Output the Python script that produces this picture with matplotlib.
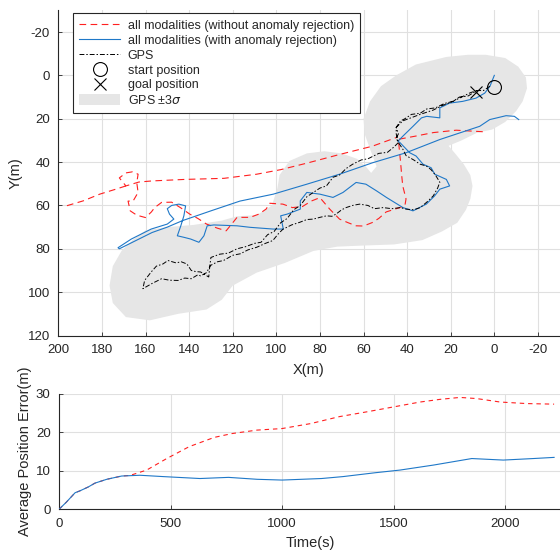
import numpy as np
import matplotlib
matplotlib.use("Agg")
import matplotlib.pyplot as plt
from matplotlib.patches import Polygon, Patch
from matplotlib.lines import Line2D

plt.rcParams['font.family'] = ['Liberation Sans', 'DejaVu Sans']
plt.rcParams['axes.unicode_minus'] = False

# ---- trajectories (m) ----
gps_x = [2, 5, 8, 12, 16, 19, 23, 27, 31, 34, 38, 41, 43, 45, 44, 45, 44,
         46, 49, 53, 58, 61, 65, 68, 71, 74, 77, 80, 83, 86, 89, 92, 95, 98, 101, 104, 107, 110, 114, 118, 122, 126, 130,
         130.5, 131, 134.7, 137, 139, 141, 143.6, 146, 149.7, 152, 155, 157.4, 160.4, 161.2, 157, 152.6, 149, 145, 142,
         139, 136, 134.7, 132, 130.2,
         127, 124.2, 120, 116.5, 113, 109, 105, 101.6, 99, 97, 93, 89.3, 86, 83, 80, 77, 74.5, 72.6, 70, 68, 65, 61.8,
         58, 55, 51, 47, 43, 40.5, 37, 34, 31, 28, 26, 25, 27, 29, 31.2, 34, 37, 40.5, 42, 44,
         45, 45, 42, 38, 34, 31, 28, 24, 19, 15, 11, 8]
gps_y = [5, 7, 7, 9.5, 10, 12, 13, 15, 15.5, 17.5, 18, 20, 21, 24, 27, 29, 31,
         33, 35.5, 36, 38.5, 39, 41, 43, 46, 47, 51, 52, 54, 56, 60, 62, 66, 68, 72, 73.5, 77, 77.5, 79, 80, 82, 82.5, 84,
         88, 93, 90.7, 90.5, 90, 87, 86, 86.5, 85.4, 87, 88, 90.7, 94.6, 98.4, 96, 93.8, 94.5, 94.6, 93.5,
         93.8, 92, 92.5, 91, 87.7,
         86, 85.4, 83, 82.3, 80.5, 79.3, 77.5, 76.2, 73, 71, 69, 67.8, 66.5, 66.3, 65.5, 64.8, 65, 64, 62, 61, 60, 59.4,
         60, 61.5, 61, 61.5, 61, 61.7, 62, 61, 58.5, 55.6, 52, 49.3, 46, 43.5, 41.8, 41, 39, 37, 34, 31,
         27, 24, 21, 19.5, 18, 17, 16, 14, 12, 10, 8, 7]

with_x = [0, 2, 4.4, 8.4, 14.5, 20.5, 25, 25, 31, 33.4, 37.3, 41.9, 44.2, 43.3, 38.8, 35.9, 32.7, 29, 27.3, 22,
          20.5, 25, 27.4, 31.2, 37.3, 41.9, 49.5, 54, 58.9, 63.4, 69.4, 74, 80, 86, 89, 89, 95, 98, 96.8, 101.4,
          112, 118, 128.6, 131.7, 133.2, 135.5, 139.3, 142.4, 145.4, 143.8, 142.4, 141.6, 144.7, 148, 150, 149,
          147, 150, 157.4, 166.5, 172.6, 172, 165, 157, 150, 143, 130, 116.7, 101.4, 86, 71, 55.8, 40.5, 25,
          6.7, 2.1, -5.4, -9.2, -11.2]
with_y = [0, 5, 8.2, 10.5, 12, 12.8, 15, 19.6, 18.9, 19.6, 23.5, 28, 30.4, 31, 35.7, 37.2, 41, 42.6, 45.6, 48,
          51, 52.5, 55.6, 59.4, 62.5, 61, 56.3, 53.3, 50.2, 49.4, 54, 56.3, 54.8, 54, 57.9, 61.7, 64, 64.8, 70.9, 70.9,
          70.1, 69.4, 69, 69.4, 74, 77, 75.5, 74.7, 74, 69.4, 64.8, 60.2, 59.4, 60, 61.5, 64,
          66.3, 68.6, 70.9, 75.5, 79.5, 80, 76.5, 72.5, 70, 67, 62.5, 58, 54.8, 50.2, 45.6, 40.3, 35.7, 29.6,
          23.5, 20.4, 18.6, 18.9, 20.4]

without_x = [5.3, 17.5, 28, 36, 44, 43.5, 43, 42.5, 42, 40.5, 41, 43.4, 49.6, 53, 56, 60, 63.4, 67, 71, 75.5, 80,
             84, 88, 92.6, 97, 103, 104.7, 108, 112, 118, 120, 123, 127, 132, 136, 139.7, 144, 148, 152.6, 155.8,
             157.3, 160, 164, 167, 168, 165.7, 163.4, 164, 163.4, 166, 169, 172, 169, 163, 157, 142, 124, 109,
             98, 86, 71, 56, 45, np.nan, 169, 173.6, 181, 188.6, 196.3]
without_y = [26, 25.3, 26.4, 28, 29.5, 35, 40, 46, 51, 57, 60, 61, 63, 66, 67.9, 69.5, 69.4, 68, 66.3, 61.7, 56.4,
             58, 60.5, 61, 59.4, 59, 61.7, 64, 65.5, 65.5, 68, 71.7, 70.5, 68.6, 66, 64, 61, 58.5, 58.6, 61,
             63, 65.6, 64.5, 62.5, 58, 58, 54, 49.5, 45.6, 44.5, 45, 47.3, 51, 49.2, 48.7, 48, 47.5, 45.6,
             43.5, 40.5, 36.5, 32.7, 28.7, np.nan, 51, 52.5, 54.8, 57.9, 60.2]

# GPS +-3 sigma region outline
band_x = [4, -5, -11, -14.5, -15, -13, -10, -5, 1, 8, 15, 21, 18, 14, 11, 10, 11, 13, 17, 24, 33, 46, 60, 72,
          83, 96, 109, 120, 125, 132, 145, 158, 169, 175, 176.5, 175, 171, 166, 160, 150, 138, 125, 118, 109,
          102, 99.5, 98.5, 94, 86, 78, 70, 63, 59, 56.5, 54, 57, 59.5, 60, 57, 52, 45, 36, 22, 12]
band_y = [-9.5, -8, -4, 1, 6, 12, 16.5, 21.5, 25, 26.5, 30, 32.5, 36, 41, 46, 51, 57, 62, 68, 72, 76, 78, 78.5, 79,
          81, 86.5, 91, 97, 103.5, 108, 110, 113, 111.5, 105, 97, 88, 81, 76, 71.5, 70, 69, 67, 65, 64.5,
          60, 52, 46, 39.5, 36, 35, 36, 38.5, 42, 45, 42, 34, 27, 20, 12, 5, 0, -5, -8.5, -9.5]

start_pos = (0.2, 5.2)
goal_pos = (8.3, 7.5)

# ---- average position error vs time ----
t_with = [0, 32, 72, 94, 131, 161, 214, 281, 363, 468, 632, 760, 888, 1000, 1177, 1273, 1417, 1529, 1679,
          1851, 1992, 2127, 2220]
err_with = [0, 1.8, 4.3, 4.8, 5.8, 6.8, 7.8, 8.65, 8.85, 8.5, 8.0, 8.3, 7.8, 7.6, 8.0, 8.5, 9.5, 10.2, 11.5,
            13.2, 12.8, 13.2, 13.5]
t_without = [0, 32, 72, 94, 131, 161, 214, 281, 318, 393, 483, 584, 696, 776, 888, 1000, 1129, 1257, 1385,
             1497, 1619, 1709, 1798, 1873, 1978, 2097, 2220]
err_without = [0, 1.8, 4.3, 4.8, 5.8, 6.8, 7.8, 8.65, 8.8, 10.2, 13.2, 16.3, 18.7, 19.7, 20.6, 21.0, 22.3,
               24.1, 25.4, 26.6, 27.9, 28.6, 29.1, 28.8, 27.9, 27.5, 27.35]

labels = ['all modalities (without anomaly rejection)',
          'all modalities (with anomaly rejection)',
          'GPS', 'start position', 'goal position', 'GPS \u00b13$\\sigma$']

RED = '#ff2020'
BLUE = '#1f78c8'
TXT = '#262626'
GRID = '#e0e0e0'
BAND = '#e6e6e6'

fig = plt.figure(figsize=(5.6, 5.52), dpi=100)
ax = fig.add_axes([0.1041, 0.3922, 0.8954, 0.5891])
ax2 = fig.add_axes([0.1054, 0.0774, 0.896, 0.2089])

for a in (ax, ax2):
    a.set_axisbelow(True)
    a.grid(True, color=GRID, lw=0.8)
    for s in ('top', 'right'):
        a.spines[s].set_visible(False)
    for s in ('left', 'bottom'):
        a.spines[s].set_color(TXT)
        a.spines[s].set_linewidth(0.8)
    a.tick_params(direction='in', length=3, width=0.6, colors=TXT, labelsize=9.5, pad=6)

ax.add_patch(Polygon(np.column_stack([band_x, band_y]), closed=True, fc=BAND, ec='none', zorder=1))
ax.plot(without_x, without_y, color=RED, lw=0.8, dashes=(6, 4), zorder=3)
ax.plot(with_x, with_y, color=BLUE, lw=0.8, zorder=4)
ax.plot(gps_x, gps_y, color='black', lw=0.7, dashes=(5, 2, 1.5, 2), zorder=5)
ax.plot(*start_pos, marker='o', ms=10, mfc='none', mec='black', mew=0.8, zorder=6)
ax.plot(*goal_pos, marker='x', ms=9, color='black', mew=0.8, zorder=6)

ax.set_xlim(200, -30)
ax.set_ylim(120, -30)
ax.set_xticks(np.arange(200, -21, -20))
ax.set_yticks(np.arange(-20, 121, 20))
ax.set_xlabel('X(m)', fontsize=10.5, color=TXT)
ax.set_ylabel('Y(m)', fontsize=10.5, color=TXT)
ax.xaxis.label.set_va('center')
ax.yaxis.label.set_va('center')
ax.xaxis.set_label_coords(0.5, -0.106)
ax.yaxis.set_label_coords(-0.0844, 0.5)

handles = [Line2D([], [], color=RED, lw=0.8, dashes=(6, 4)),
           Line2D([], [], color=BLUE, lw=0.8),
           Line2D([], [], color='black', lw=0.7, dashes=(5, 2, 1.5, 2)),
           Line2D([], [], ls='none', marker='o', ms=10, mfc='none', mec='black', mew=0.8),
           Line2D([], [], ls='none', marker='x', ms=9, color='black', mew=0.8),
           Patch(fc=BAND, ec='none')]
leg = ax.legend(handles, labels, loc='upper left', bbox_to_anchor=(72.7 / 560, 1 - 13.3 / 552),
                bbox_transform=fig.transFigure, borderaxespad=0, fontsize=9, handlelength=3.3,
                handleheight=0.95, handletextpad=0.6, labelspacing=0.17, borderpad=0.5,
                fancybox=False, framealpha=1, edgecolor=TXT)
leg.get_frame().set_linewidth(0.8)
for t in leg.get_texts():
    t.set_color(TXT)

ax2.plot(t_without, err_without, color=RED, lw=0.8, dashes=(4, 3.5), zorder=3)
ax2.plot(t_with, err_with, color=BLUE, lw=0.8, zorder=4)
ax2.set_xlim(0, 2250)
ax2.set_ylim(0, 30)
ax2.set_xticks([0, 500, 1000, 1500, 2000])
ax2.set_yticks([0, 10, 20, 30])
ax2.set_xlabel('Time(s)', fontsize=10.5, color=TXT)
ax2.set_ylabel('Average Position Error(m)', fontsize=10.5, color=TXT)
ax2.xaxis.label.set_va('center')
ax2.yaxis.label.set_va('center')
ax2.xaxis.set_label_coords(0.5, -0.292)
ax2.yaxis.set_label_coords(-0.0678, 0.5)

fig.savefig('out.png', dpi=100)
